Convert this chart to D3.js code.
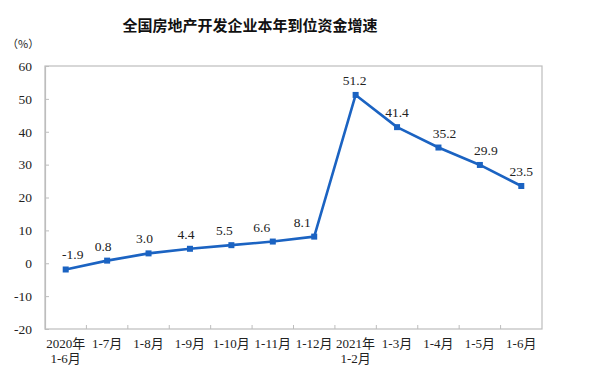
<!DOCTYPE html>
<html>
<head>
<meta charset="utf-8">
<script src="https://cdn.jsdelivr.net/npm/d3@7"></script>
<style>
  html, body { margin: 0; padding: 0; background: #fff; }
  svg { display: block; }
</style>
</head>
<body>
<svg id="chart" width="616" height="379"></svg>
<script>
// ---- data ----
const categories = [
  ["2020年", "1-6月"], ["1-7月"], ["1-8月"], ["1-9月"], ["1-10月"], ["1-11月"], ["1-12月"],
  ["2021年", "1-2月"], ["1-3月"], ["1-4月"], ["1-5月"], ["1-6月"]
];
const values = [-1.9, 0.8, 3.0, 4.4, 5.5, 6.6, 8.1, 51.2, 41.4, 35.2, 29.9, 23.5];
const yTicks = [-20, -10, 0, 10, 20, 30, 40, 50, 60];
const title = "全国房地产开发企业本年到位资金增速";
const unitLabel = "（%）";

// ---- layout (not data) ----
const labelNudge = [7, -4, -4, -4, -7, -11, -12, -1, 0, 6, 6, 0];
const W = 616, H = 379;
const m = { left: 45, top: 66, right: 74, bottom: 50 };
const pw = W - m.left - m.right, ph = H - m.top - m.bottom;
const serif = "'Liberation Serif','Noto Sans CJK SC',serif";
const lineColor = "#1b63c2";
const axisColor = "#bdbdbd";

const svg = d3.select("#chart");
const g = svg.append("g").attr("transform", `translate(${m.left},${m.top})`);

const x = d3.scaleBand().domain(d3.range(categories.length)).range([0, pw]);
const y = d3.scaleLinear().domain([-20, 60]).range([ph, 0]);

// title
svg.append("text")
  .attr("x", 250).attr("y", 31)
  .attr("text-anchor", "middle")
  .style("font-family", "'Noto Sans CJK SC',sans-serif")
  .style("font-size", "15px")
  .style("font-weight", "bold")
  .style("fill", "#111")
  .text(title);

svg.append("text")
  .attr("x", 7).attr("y", 48)
  .style("font-family", "'Noto Sans CJK SC',sans-serif")
  .style("font-size", "11px")
  .style("fill", "#222")
  .text(unitLabel);

// frame
g.append("rect")
  .attr("x", 0).attr("y", 0).attr("width", pw).attr("height", ph)
  .attr("fill", "none").attr("stroke", axisColor).attr("stroke-width", 1.2);

// y axis
const yAxis = d3.axisLeft(y).tickValues(yTicks).tickSize(-4).tickPadding(13).tickFormat(d => String(d));
const ya = g.append("g").call(yAxis).attr("font-family", null);
ya.select(".domain").attr("stroke", axisColor).attr("stroke-width", 1.2);
ya.selectAll(".tick line").attr("stroke", axisColor);
ya.selectAll(".tick text")
  .style("font-family", serif).style("font-size", "13.5px").style("fill", "#222");

// x axis: ticks at category boundaries pointing up
const xa = g.append("g").attr("transform", `translate(0,${ph})`);
xa.selectAll("line.xt")
  .data(d3.range(1, categories.length))
  .join("line")
  .attr("class", "xt")
  .attr("x1", i => x(i)).attr("x2", i => x(i))
  .attr("y1", 0).attr("y2", -4)
  .attr("stroke", axisColor);

const xl = xa.selectAll("text.xl")
  .data(categories)
  .join("text")
  .attr("class", "xl")
  .attr("x", (d, i) => x(i) + x.bandwidth() / 2)
  .attr("y", 19)
  .attr("text-anchor", "middle")
  .style("font-family", serif).style("font-size", "13px").style("fill", "#222");
xl.selectAll("tspan")
  .data(d => d)
  .join("tspan")
  .attr("x", function () { return d3.select(this.parentNode).attr("x"); })
  .attr("dy", (d, i) => i === 0 ? 0 : 15)
  .text(d => d);

// line
const line = d3.line()
  .x((d, i) => x(i) + x.bandwidth() / 2)
  .y(d => y(d))
  .curve(d3.curveLinear);

g.append("path")
  .datum(values)
  .attr("d", line)
  .attr("fill", "none")
  .attr("stroke", lineColor)
  .attr("stroke-width", 2.6)
  .attr("stroke-linejoin", "round");

g.selectAll("rect.mk")
  .data(values)
  .join("rect")
  .attr("class", "mk")
  .attr("x", (d, i) => x(i) + x.bandwidth() / 2 - 3)
  .attr("y", d => y(d) - 3)
  .attr("width", 6).attr("height", 6)
  .attr("fill", lineColor);

g.selectAll("text.lbl")
  .data(values)
  .join("text")
  .attr("class", "lbl")
  .attr("x", (d, i) => x(i) + x.bandwidth() / 2 + labelNudge[i])
  .attr("y", d => y(d) - 10)
  .attr("text-anchor", "middle")
  .style("font-family", serif).style("font-size", "13.5px").style("fill", "#222")
  .text(d => d.toFixed(1));
</script>
</body>
</html>
